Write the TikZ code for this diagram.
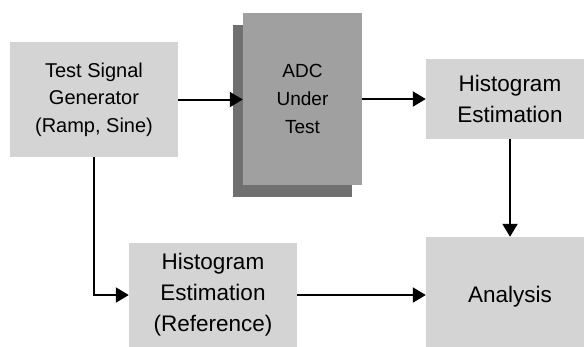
\documentclass[tikz,border=0pt]{standalone}
\usepackage{fontspec}
\setmainfont{Liberation Sans}
\usetikzlibrary{arrows.meta,positioning}
\definecolor{boxgray}{RGB}{212,212,212}
\definecolor{adcgray}{RGB}{160,160,160}
\definecolor{shadowgray}{RGB}{112,112,112}
\tikzset{
  blockbox/.style={fill=boxgray, draw=none, inner sep=0pt, align=center,
    minimum width=168pt, font=\fontsize{22.5}{31}\selectfont},
  adcbox/.style={fill=adcgray, draw=none, inner sep=0pt, align=center,
    minimum width=119pt, minimum height=172pt, font=\fontsize{19}{28}\selectfont},
  adcshadow/.style={fill=shadowgray, draw=none, inner sep=0pt,
    minimum width=119pt, minimum height=172pt},
  flow/.style={line width=2pt, -{Triangle[length=13pt,width=15pt]}},
}
\begin{document}
\begin{tikzpicture}[x=1pt,y=-1pt]
  \useasboundingbox (0,0) rectangle (584,346);
  \clip (0,0) rectangle (584,346);

  % source block
  \node[blockbox, minimum height=115pt, font=\fontsize{20}{27.5}\selectfont]
    (gen) at (94,99.5) {Test Signal\\Generator\\(Ramp, Sine)};

  % converter block with its drop shadow
  \node[adcshadow] (adcsh) at (292.5,110.5) {};
  \node[adcbox] (adc) at (302.5,99) {ADC\\Under\\Test};

  % histogram of the converter output
  \node[blockbox, minimum height=80pt] (hist) at (510,99) {Histogram\\Estimation};

  % histogram of the reference signal
  \node[blockbox, minimum height=104pt] (ref) at (213,295) {Histogram\\Estimation\\(Reference)};

  % analysis block
  \node[blockbox, minimum height=120pt] (ana) at (510,297) {Analysis};

  % connectors
  \draw[flow] (gen.east) -- (gen.east -| adc.west);
  \draw[flow] (adc.east |- hist.west) -- (hist.west);
  \draw[flow] (hist.south) -- (ana.north);
  \draw[flow] (gen.south) |- (ref.west);
  \draw[flow] (ref.east) -- (ref.east -| ana.west);
\end{tikzpicture}
\end{document}
